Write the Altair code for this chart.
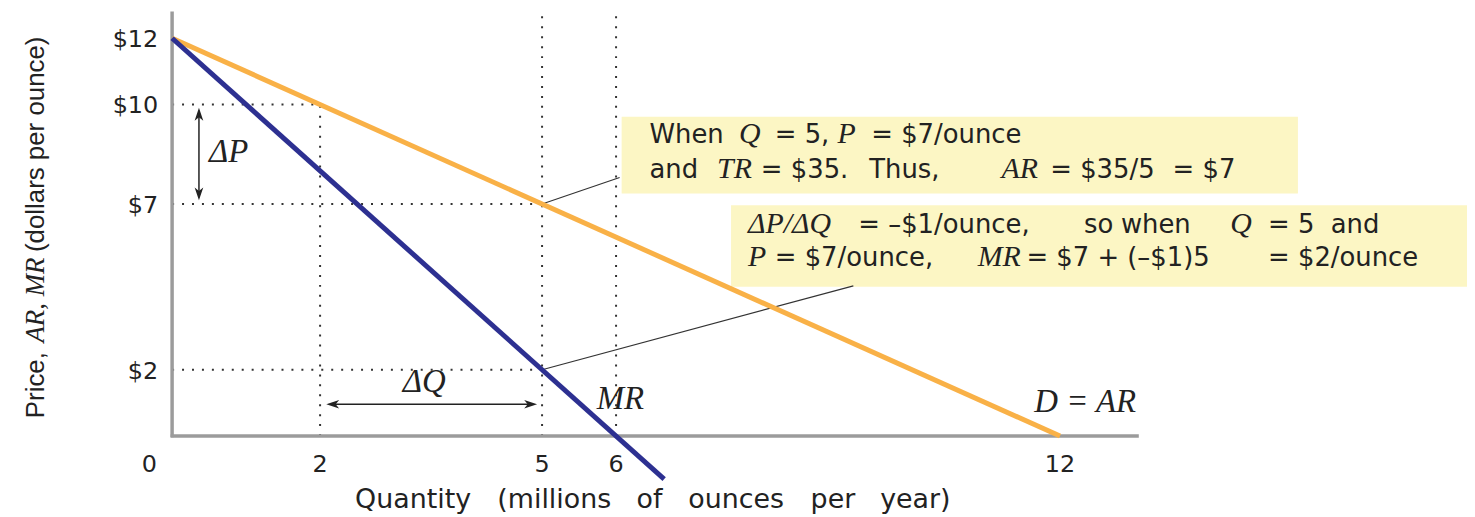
import altair as alt
import pandas as pd

# ---------------- values ----------------
demand_q = [0, 12]
demand_p = [12, 0]
mr_q = [0, 6.65]
mr_p = [12, -1.3]

x_tick_values = [2, 5, 6, 12]
x_tick_labels = ["2", "5", "6", "12"]
y_tick_values = [12, 10, 7, 2]
y_tick_labels = ["$12", "$10", "$7", "$2"]

# points referred to by the notes (Q, P)
note_q = [5, 5]
note_p = [7, 2]

# ---------------- layout (page pixels -> data units) ----------------
X0, SX = 173, 74.4      # page x of Q=0, pixels per unit of Q
Y0, SY = 437, 33.333    # page y of P=0, pixels per unit of P
W, H = 972, 501
Q_MAX = W / SX
P_TOP = (Y0 - 8) / SY
P_BOT = P_TOP - H / SY


def q(px):
    return (px - X0) / SX


def p(py):
    return (Y0 - py) / SY


xs = alt.Scale(domain=[0, Q_MAX], nice=False, zero=False)
ys = alt.Scale(domain=[P_BOT, P_TOP], nice=False, zero=False)


def X(f):
    return alt.X(f, type="quantitative", scale=xs, axis=None)


def Y(f):
    return alt.Y(f, type="quantitative", scale=ys, axis=None)


ORANGE = "#F9B147"
BLUE = "#2D3091"
BOXFILL = "#FCF6C4"
TXT = "#222222"
SANS = "DejaVu Sans"
SERIF = "Liberation Serif"

# ---------------- tables ----------------
demand_df = pd.DataFrame({"q": demand_q, "p": demand_p})
mr_df = pd.DataFrame({"q": mr_q, "p": mr_p})

guides_df = pd.DataFrame({
    "q1": [note_q[0], x_tick_values[2], x_tick_values[0], 0, 0, 0],
    "p1": [0, 0, 0, y_tick_values[1], y_tick_values[2], y_tick_values[3]],
    "q2": [note_q[0], x_tick_values[2], x_tick_values[0], x_tick_values[0], note_q[0], note_q[1]],
    "p2": [P_TOP, P_TOP, y_tick_values[1], y_tick_values[1], y_tick_values[2], y_tick_values[3]],
})

axes_df = pd.DataFrame({
    "q1": [-0.02, 0], "p1": [0, -0.04],
    "q2": [Q_MAX, 0], "p2": [0, p(10)],
})

boxes_df = pd.DataFrame({
    "q1": [q(625), q(735)], "q2": [q(1305), q(1485)],
    "p1": [p(116), p(205)], "p2": [p(193), p(287)],
})

leaders_df = pd.DataFrame({
    "q1": note_q, "p1": note_p,
    "q2": [q(623), q(858)], "p2": [p(177), p(286)],
})

shafts_df = pd.DataFrame({
    "q1": [q(200), q(332)], "p1": [p(110), p(405)],
    "q2": [q(200), q(536)], "p2": [p(197), p(405)],
})

ARROW = "M0,-1L0.62,0.85L0,0.35L-0.62,0.85Z"
heads_df = pd.DataFrame({
    "q": [q(200), q(200), q(335), q(533)],
    "p": [p(114), p(193), p(405), p(405)],
    "ang": [0, 180, 270, 90],
})

xtick_df = pd.DataFrame({"q": x_tick_values, "label": x_tick_labels})
ytick_df = pd.DataFrame({"p": y_tick_values, "label": y_tick_labels})

# text runs: (text, page x, page baseline y)
sans_segments = [
    ("When", 653, 142), ("= 5,", 779, 142), ("= $7/ounce", 876, 142),
    ("and", 653, 178), ("= $35.", 765, 178), ("Thus,", 874, 178),
    ("= $35/5", 1056, 178), ("= $7", 1179, 178),
    ("= \u2013$1/ounce,", 863, 233), ("so", 1090, 233), ("when", 1127, 233),
    ("= 5", 1275, 233), ("and", 1338, 233),
    ("= $7/ounce,", 779, 266), ("= $7 + (\u2013$1)5", 1032, 266), ("= $2/ounce", 1275, 266),
]
ital_segments = [
    ("Q", 743, 142), ("P", 842, 142),
    ("TR", 721, 178), ("AR", 1007, 178),
    ("\u0394P/\u0394Q", 752, 233), ("Q", 1237, 233),
    ("P", 752, 266), ("MR", 983, 266),
]
label_segments = [
    ("\u0394P", 210, 161), ("\u0394Q", 405, 393), ("MR", 600, 410), ("D = AR", 1040, 413),
]
xtitle_segments = [
    ("Quantity", 357, 509), ("(millions", 500, 509), ("of", 640, 509),
    ("ounces", 692, 509), ("per", 815, 509), ("year)", 885, 509),
]
ytitle_sans = [("Price,", 44, 419), ("(dollars per ounce)", 44, 252)]
ytitle_ital = [("AR, MR", 44, 343)]


def seg_df(segs):
    return pd.DataFrame({
        "text": [s[0] for s in segs],
        "q": [q(s[1]) for s in segs],
        "p": [p(s[2]) for s in segs],
    })


# ---------------- layers ----------------
boxes = alt.Chart(boxes_df).mark_rect(color=BOXFILL).encode(
    x=X("q1"), x2=alt.X2("q2"), y=Y("p1"), y2=alt.Y2("p2"))

guides = alt.Chart(guides_df).mark_rule(
    color="#333333", strokeWidth=2, strokeDash=[2, 8]).encode(
    x=X("q1"), x2=alt.X2("q2"), y=Y("p1"), y2=alt.Y2("p2"))

axes = alt.Chart(axes_df).mark_rule(color="#9B9B9B", strokeWidth=3.5).encode(
    x=X("q1"), x2=alt.X2("q2"), y=Y("p1"), y2=alt.Y2("p2"))

leaders = alt.Chart(leaders_df).mark_rule(color="#333333", strokeWidth=1.2).encode(
    x=X("q1"), x2=alt.X2("q2"), y=Y("p1"), y2=alt.Y2("p2"))

shafts = alt.Chart(shafts_df).mark_rule(color="#222222", strokeWidth=1.5).encode(
    x=X("q1"), x2=alt.X2("q2"), y=Y("p1"), y2=alt.Y2("p2"))

heads = alt.Chart(heads_df).mark_point(
    shape=ARROW, filled=True, size=196, color="#222222", opacity=1).encode(
    x=X("q"), y=Y("p"), angle=alt.Angle("ang:Q", scale=None))

demand = alt.Chart(demand_df).mark_line(color=ORANGE, strokeWidth=5).encode(
    x=X("q"), y=Y("p"), order="q:Q")

mr = alt.Chart(mr_df).mark_line(color=BLUE, strokeWidth=5).encode(
    x=X("q"), y=Y("p"), order="q:Q")

xticks = alt.Chart(xtick_df).mark_text(
    font=SANS, fontSize=24, color=TXT, align="center", baseline="alphabetic").encode(
    x=X("q"), y=alt.value(473 - 8), text="label:N")

origin = alt.Chart(pd.DataFrame({"q": [q(150)], "label": ["0"]})).mark_text(
    font=SANS, fontSize=24, color=TXT, align="center", baseline="alphabetic").encode(
    x=X("q"), y=alt.value(473 - 8), text="label:N")

yticks = alt.Chart(ytick_df).mark_text(
    font=SANS, fontSize=24, color=TXT, align="right", baseline="alphabetic", dy=9).encode(
    x=alt.value(159 - X0), y=Y("p"), text="label:N")

sans_txt = alt.Chart(seg_df(sans_segments)).mark_text(
    font=SANS, fontSize=26, color=TXT, align="left", baseline="alphabetic").encode(
    x=X("q"), y=Y("p"), text="text:N")

ital_txt = alt.Chart(seg_df(ital_segments)).mark_text(
    font=SERIF, fontStyle="italic", fontSize=30, color=TXT, align="left",
    baseline="alphabetic").encode(x=X("q"), y=Y("p"), text="text:N")

labels_txt = alt.Chart(seg_df(label_segments)).mark_text(
    font=SERIF, fontStyle="italic", fontSize=33, color=TXT, align="left",
    baseline="alphabetic").encode(x=X("q"), y=Y("p"), text="text:N")

xtitle = alt.Chart(seg_df(xtitle_segments)).mark_text(
    font=SANS, fontSize=27, color=TXT, align="left", baseline="alphabetic").encode(
    x=X("q"), y=Y("p"), text="text:N")

ytitle_s = alt.Chart(seg_df(ytitle_sans)).mark_text(
    font="Liberation Sans", fontSize=26, color=TXT, align="left", baseline="alphabetic",
    angle=270).encode(x=X("q"), y=Y("p"), text="text:N")

ytitle_i = alt.Chart(seg_df(ytitle_ital)).mark_text(
    font=SERIF, fontStyle="italic", fontSize=27, color=TXT, align="left",
    baseline="alphabetic", angle=270).encode(x=X("q"), y=Y("p"), text="text:N")

chart = alt.layer(
    boxes, guides, axes, leaders, shafts, heads, demand, mr,
    xticks, origin, yticks, sans_txt, ital_txt, labels_txt, xtitle, ytitle_s, ytitle_i,
).properties(
    width=W, height=H,
    padding={"left": X0 - 8, "top": 0, "right": 1467 - (X0 - 8) - W, "bottom": 8},
    autosize=alt.AutoSizeParams(type="none"),
).configure_view(stroke=None)

chart.save("out.html", embed_options={"renderer": "svg", "actions": False})
